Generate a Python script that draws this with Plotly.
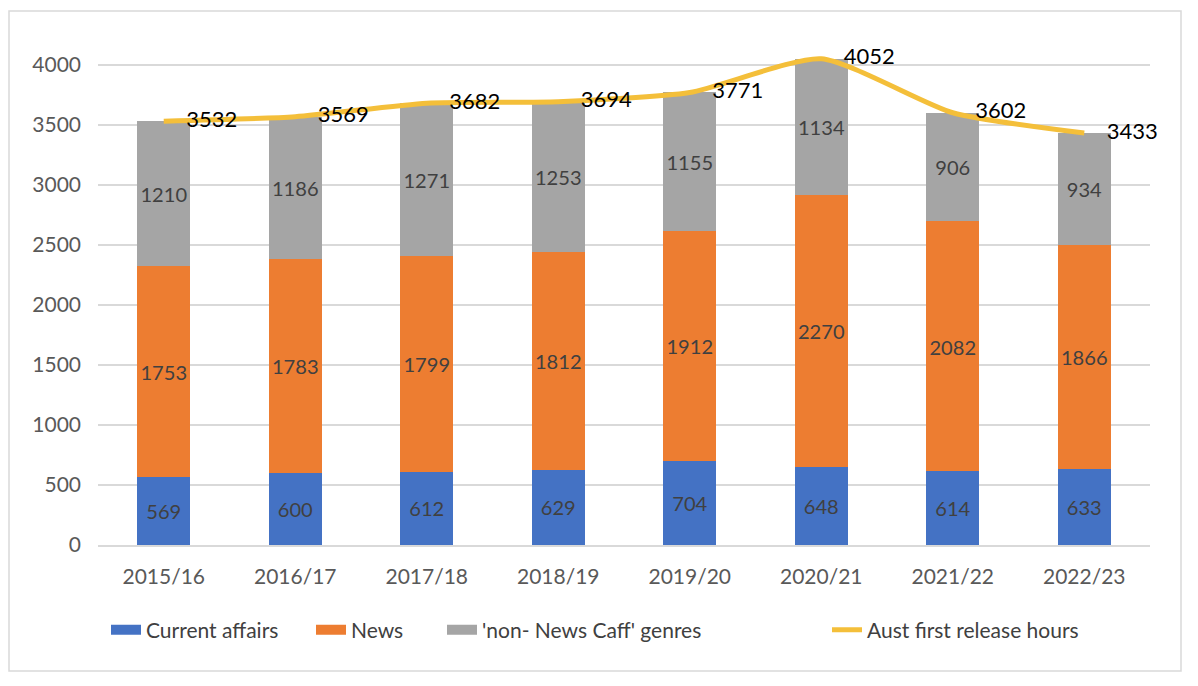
import plotly.graph_objects as go

# Hours by financial year
years = ['2015/16', '2016/17', '2017/18', '2018/19', '2019/20', '2020/21', '2021/22', '2022/23']
current_affairs = [569, 600, 612, 629, 704, 648, 614, 633]
news = [1753, 1783, 1799, 1812, 1912, 2270, 2082, 1866]
non_news_caff = [1210, 1186, 1271, 1253, 1155, 1134, 906, 934]
first_release = [3532, 3569, 3682, 3694, 3771, 4052, 3602, 3433]

y_ticks = [0, 500, 1000, 1500, 2000, 2500, 3000, 3500, 4000]

FONT = 'Lato'
BAR_LABEL = '#404040'

# page has an 8px body margin, so the figure is drawn 8px smaller
W, H = 1190, 678
ML, MR, MT, MB = 90, 48, 45, 141
PW, PH = W - ML - MR, H - MT - MB


def paper_x(page_x):
    return (page_x - 8 - ML) / PW


# Excel spreads its legend entries out, so each gets its own legend box
legend_text_x = [146, 351, 482, 867]
LEGEND_Y = -(630 - 545) / PH

fig = go.Figure()

bar_series = [
    ('Current affairs', current_affairs, '#4472C4'),
    ('News', news, '#ED7D31'),
    ("'non- News Caff' genres", non_news_caff, '#A5A5A5'),
]
for i, (name, values, color) in enumerate(bar_series):
    fig.add_trace(go.Bar(
        x=years, y=values, name=name, legendgroup=name, showlegend=False,
        marker=dict(color=color, line=dict(width=0)),
        text=values, textposition='inside', insidetextanchor='middle',
        textangle=0,
        textfont=dict(family=FONT, size=21, color=BAR_LABEL),
        hoverinfo='skip',
    ))
    # wide swatch for the legend, like Excel's
    fig.add_trace(go.Scatter(
        x=[None], y=[None], name=name, legendgroup=name, mode='lines',
        line=dict(color=color, width=13),
        legend='legend' if i == 0 else f'legend{i + 1}',
    ))

fig.add_trace(go.Scatter(
    x=years, y=first_release, name='Aust first release hours',
    mode='lines+text',
    line=dict(color='#F4BF3A', width=5, shape='spline', smoothing=0.6),
    text=first_release, texttemplate='    %{text}', textposition='middle right',
    textfont=dict(family=FONT, size=22, color='#000000'),
    cliponaxis=False,
    hoverinfo='skip',
    legend='legend4',
))

legend_style = dict(
    orientation='h', xanchor='left', y=LEGEND_Y, yanchor='middle',
    font=dict(family=FONT, size=21, color='#404040'),
    bgcolor='rgba(0,0,0,0)',
)
legends = {}
for i, tx in enumerate(legend_text_x):
    key = 'legend' if i == 0 else f'legend{i + 1}'
    legends[key] = dict(legend_style, x=paper_x(tx - 40))

fig.update_layout(
    width=W, height=H,
    barmode='stack', bargap=0.6,
    plot_bgcolor='white', paper_bgcolor='white',
    font=dict(family=FONT, size=21, color='#595959'),
    margin=dict(l=ML, r=MR, t=MT, b=MB),
    uniformtext=dict(minsize=20, mode='show'),
    xaxis=dict(
        type='category', showgrid=False, ticks='',
        showline=True, linecolor='#D9D9D9', linewidth=1.5,
        ticklabelstandoff=12,
    ),
    yaxis=dict(
        range=[0, 4100], tickvals=y_ticks, showgrid=True, gridcolor='#D9D9D9',
        gridwidth=1.5, zeroline=False, ticks='', ticklabelstandoff=16,
    ),
    shapes=[dict(
        type='rect', xref='paper', yref='paper',
        x0=(1 - ML) / PW, x1=(1173 - ML) / PW,
        y0=-(663 - MT - PH) / PH, y1=1 + (MT - 3) / PH,
        line=dict(color='#D9D9D9', width=1.5), fillcolor='rgba(0,0,0,0)',
        layer='below',
    )],
    **legends,
)

fig.write_html('out.html')
